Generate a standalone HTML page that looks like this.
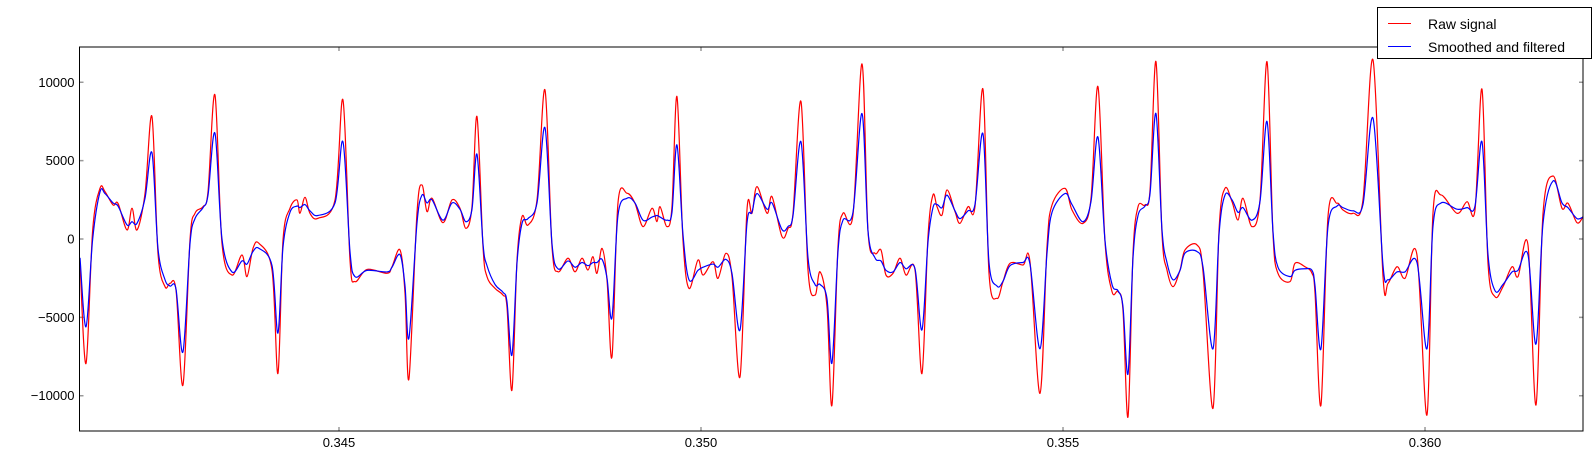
<!DOCTYPE html>
<html><head><meta charset="utf-8"><style>
html,body{margin:0;padding:0;background:#fff;}
svg{display:block;font-family:"Liberation Sans",sans-serif;}
</style></head><body>
<svg id="chart" width="1596" height="459" viewBox="0 0 1596 459" xmlns="http://www.w3.org/2000/svg">
<defs><clipPath id="pc"><rect x="79.5" y="47" width="1503.5" height="384"/></clipPath></defs>
<g id="ticks"></g>
<g id="series" clip-path="url(#pc)"></g>
<rect x="79.5" y="47" width="1503.5" height="384" fill="none" stroke="#000" stroke-width="1"/>
<g>
<rect x="1377.5" y="7.5" width="214" height="51" fill="#fff" stroke="#000" stroke-width="1"/>
<line x1="1388" y1="23.5" x2="1411" y2="23.5" stroke="#f00" stroke-width="1"/>
<text x="1428" y="29" font-size="14">Raw signal</text>
<line x1="1388" y1="46.5" x2="1411" y2="46.5" stroke="#00f" stroke-width="1"/>
<text x="1428" y="52" font-size="14">Smoothed and filtered</text>
</g>
</svg>
<script>
const timeMs = [341.423,341.506,341.598,341.699,341.768,341.879,341.948,342.072,342.141,342.210,342.321,342.417,342.500,342.597,342.666,342.749,342.845,342.942,343.011,343.122,343.191,343.287,343.384,343.522,343.660,343.729,343.812,343.895,344.075,344.157,344.227,344.323,344.420,344.461,344.530,344.599,344.710,344.945,345.055,345.152,345.221,345.387,345.663,345.732,345.843,345.912,345.967,346.077,346.146,346.215,346.285,346.436,346.561,346.671,346.754,346.837,346.906,346.989,347.044,347.155,347.265,347.320,347.389,347.459,347.528,347.610,347.735,347.845,347.942,348.025,348.163,348.260,348.356,348.439,348.508,348.563,348.633,348.702,348.771,348.853,348.978,349.088,349.199,349.323,349.392,349.434,349.530,349.599,349.668,349.751,349.834,349.958,350.028,350.166,350.235,350.345,350.428,350.539,350.635,350.704,350.773,350.912,350.981,351.119,351.202,351.271,351.381,351.478,351.575,351.644,351.740,351.809,351.892,351.961,352.099,352.224,352.307,352.403,352.486,352.555,352.652,352.749,352.831,352.956,353.052,353.135,353.204,353.260,353.329,353.398,353.508,353.577,353.688,353.784,353.895,353.978,354.088,354.171,354.268,354.447,354.544,354.682,354.779,354.848,355.027,355.124,355.276,355.387,355.483,355.580,355.677,355.760,355.828,355.898,355.967,356.036,356.132,356.202,356.284,356.367,356.436,356.519,356.616,356.685,356.851,356.934,357.072,357.155,357.237,357.334,357.417,357.486,357.610,357.721,357.818,357.900,357.969,358.135,358.204,358.342,358.439,358.481,358.563,358.660,358.784,358.867,359.005,359.143,359.282,359.420,359.489,359.613,359.723,359.889,360.027,360.110,360.221,360.442,360.580,360.690,360.787,360.870,360.967,361.077,361.202,361.284,361.422,361.533,361.630,361.768,361.892,361.975,362.099,362.182];
const rawSignal = [-1550,-7940,575,3230,3020,2170,2270,575,1960,575,2900,7810,-915,-3040,-2830,-3260,-9320,-64,1640,2060,3020,9190,-280,-2300,-1020,-2400,-600,-280,-1980,-8580,-64,1960,2490,1640,2660,1640,1320,2490,8870,-1340,-2720,-1940,-2190,-1770,-700,-3470,-8900,1640,3450,1750,2600,1040,2490,1960,680,2060,7810,-490,-2400,-3150,-3580,-4320,-9640,-1340,1430,890,2490,9510,-490,-2090,-1230,-2090,-1230,-1980,-1130,-2190,-600,-2620,-7510,2280,2920,2280,790,1960,1110,2060,790,2060,9090,-64,-3150,-1340,-2300,-1450,-2510,-915,-2400,-8790,1850,1640,3340,1640,2700,150,680,1640,8770,-1980,-3580,-2090,-4320,-10600,-490,1640,1530,11170,470,-915,-700,-2300,-2190,-1230,-2300,-1980,-8580,150,2810,2060,1530,3130,1750,1000,2060,2060,9550,-2190,-3790,-2720,-1550,-1660,-1450,-9850,-490,2170,3230,1850,1000,2600,9720,-170,-3360,-3360,-4530,-11340,-915,2060,2170,3130,11320,360,-1980,-3040,-1980,-700,-380,-2090,-10800,570,3230,2380,1210,2600,790,2490,11310,360,-2190,-2720,-1550,-1770,-2190,-3470,-10590,1430,2280,1850,1640,2490,11420,-2400,-2830,-1770,-2510,-1020,-11230,1640,2810,1640,2380,1850,9550,-1550,-3680,-3040,-1770,-2400,-380,-10590,1640,4020,1960,2280,1040,1430];
const smoothedSignal = [-1200,-5600,0,3000,2900,2300,2100,900,1100,1000,2600,5500,-600,-2600,-3000,-3200,-7200,-300,1300,2000,2800,6750,0,-2100,-1400,-1600,-800,-600,-1700,-6000,-500,1700,2100,2000,2200,1800,1500,2300,6200,-800,-2400,-2000,-2100,-1800,-1000,-3000,-6300,1000,2800,2300,2500,1200,2300,1900,1100,1900,5400,-300,-1700,-2900,-3400,-4000,-7400,-1500,1000,1300,2300,7100,-300,-1900,-1400,-1800,-1500,-1700,-1500,-1500,-1300,-2500,-5000,1500,2600,2300,1200,1400,1500,1400,1200,1700,6000,300,-2600,-2000,-1800,-1600,-1800,-1300,-2200,-5800,1000,1700,2900,1900,2300,600,800,1500,6200,-1200,-2900,-2900,-3800,-7900,-800,1200,1700,8000,500,-1200,-1400,-2000,-2100,-1500,-1900,-1900,-5800,-200,2000,2200,2000,2800,1800,1300,1800,2200,6700,-1500,-3000,-2700,-1700,-1500,-1600,-7000,-900,1700,2900,2200,1100,2400,6500,-100,-2900,-3300,-4300,-8600,-1200,1500,2100,2900,8000,600,-1500,-2600,-2000,-900,-800,-1800,-7000,300,2800,2500,1700,2000,1200,2400,7500,500,-1800,-2400,-2000,-1900,-2000,-3000,-7000,800,2100,2000,1800,2200,7700,-1700,-2600,-2100,-2100,-1500,-7000,800,2300,1900,2000,2100,6200,-1000,-3300,-2900,-2100,-2000,-1000,-6700,1000,3700,2300,2000,1300,1400];
const xTickValues = [0.345,0.350,0.355,0.360];
const xTickLabels = ["0.345","0.350","0.355","0.360"];
const yTickValues = [10000,5000,0,-5000,-10000];
const yTickLabels = ["10000","5000","0","\u22125000","\u221210000"];

const L=79.5,R=1583,T=47,B=431;
const X0=0.341416,X1=0.362182,Y0=-12250,Y1=12250;
function xs(t){return L+(t-X0)/(X1-X0)*(R-L);}
function ys(v){return B-(v-Y0)/(Y1-Y0)*(B-T);}
const NS="http://www.w3.org/2000/svg";
const tg=document.getElementById('ticks');
const sg=document.getElementById('series');
function mk(tag,attrs,parent){const e=document.createElementNS(NS,tag);for(const k in attrs)e.setAttribute(k,attrs[k]);parent.appendChild(e);return e;}

xTickValues.forEach((v,i)=>{
  const x=xs(v);
  const t1=mk('line',{x1:x,y1:B,x2:x,y2:B-4,stroke:'#999','stroke-width':1.5},tg);
  
  
  const t2=mk('line',{x1:x,y1:T,x2:x,y2:T+4,stroke:'#999','stroke-width':1.5},tg);
  
  
  const lb=mk('text',{x:x,y:B+16,'font-size':13,'text-anchor':'middle',fill:'#000'},tg);
  lb.textContent=xTickLabels[i];
  
  
});
yTickValues.forEach((v,i)=>{
  const y=ys(v);
  const t1=mk('line',{x1:L,y1:y,x2:L+4,y2:y,stroke:'#999','stroke-width':1.5},tg);
  
  
  const t2=mk('line',{x1:R,y1:y,x2:R-4,y2:y,stroke:'#999','stroke-width':1.5},tg);
  
  
  const lb=mk('text',{x:L-5,y:y+4.5,'font-size':13,'text-anchor':'end',fill:'#000'},tg);
  lb.textContent=yTickLabels[i];
  
  
});
function pathD(vals){
  const p=timeMs.map((t,i)=>[xs(t/1000),ys(vals[i])]);
  let d='M'+p[0][0].toFixed(2)+','+p[0][1].toFixed(2);
  for(let i=0;i<p.length-1;i++){
    const p0=p[Math.max(0,i-1)],p1=p[i],p2=p[i+1],p3=p[Math.min(p.length-1,i+2)];
    const c1x=p1[0]+(p2[0]-p0[0])/6,c1y=p1[1]+(p2[1]-p0[1])/6;
    const c2x=p2[0]-(p3[0]-p1[0])/6,c2y=p2[1]-(p3[1]-p1[1])/6;
    d+=' C'+c1x.toFixed(2)+','+c1y.toFixed(2)+' '+c2x.toFixed(2)+','+c2y.toFixed(2)+' '+p2[0].toFixed(2)+','+p2[1].toFixed(2);
  }
  return d;
}
const rl=mk('path',{d:pathD(rawSignal),fill:'none',stroke:'#f00','stroke-width':1.2,'stroke-linejoin':'round'},sg);


const bl=mk('path',{d:pathD(smoothedSignal),fill:'none',stroke:'#00f','stroke-width':1.2,'stroke-linejoin':'round'},sg);


</script>
</body></html>
